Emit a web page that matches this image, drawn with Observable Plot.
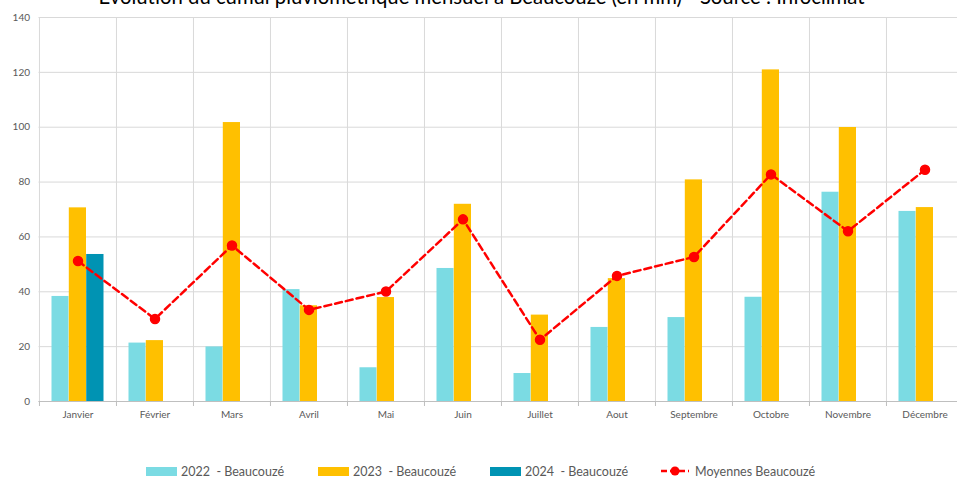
<!DOCTYPE html>
<html>
<head>
<meta charset="utf-8">
<script src="https://cdn.jsdelivr.net/npm/d3@7"></script>
<script src="https://cdn.jsdelivr.net/npm/@observablehq/plot@0.6"></script>
<style>
  html, body { margin: 0; padding: 0; background: #fff; overflow: hidden; width: 957px; height: 480px; }
  #wrap { position: relative; width: 957px; height: 480px; }
  #title { position: absolute; top: -14px; left: 0; width: 963px; text-align: center; z-index: 2; line-height: 21px;
           font-family: Lato, "Open Sans", sans-serif; font-size: 20.3px; color: #000; white-space: nowrap; }
  #chart { position: absolute; top: 0; left: 0; z-index: 1; }
  #chart svg { max-width: none !important; }
  #legend { position: absolute; top: 462px; left: 0; width: 957px; height: 18px;
            font-family: Lato, "Open Sans", sans-serif; font-size: 12.5px; color: #595959; }
  .item { position: absolute; top: 0; display: flex; align-items: center; height: 18px; white-space: pre; }
  .sw { width: 31px; height: 9px; margin-right: 4px; }
</style>
</head>
<body>
<div id="wrap">
  <div id="title">Evolution du cumul pluviométrique mensuel à Beaucouzé (en mm) - Source : Infoclimat</div>
  <div id="chart"></div>
  <div id="legend"></div>
</div>
<script>
const months = ["Janvier","Février","Mars","Avril","Mai","Juin","Juillet","Aout","Septembre","Octobre","Novembre","Décembre"];
const v2022 = [38.3, 21.3, 19.9, 40.8, 12.3, 48.5, 10.2, 27.0, 30.6, 38.0, 76.3, 69.3];
const v2023 = [70.6, 22.2, 101.7, 34.9, 37.9, 71.9, 31.5, 44.8, 80.8, 120.9, 99.9, 70.7];
const v2024 = [53.6];
const moyennes = [51.2, 30.1, 56.9, 33.4, 40.1, 66.4, 22.5, 45.8, 52.7, 82.8, 62.1, 84.5];
const yTicks = [0, 20, 40, 60, 80, 100, 120, 140];
const seriesNames = ["2022  - Beaucouzé", "2023  - Beaucouzé", "2024  - Beaucouzé", "Moyennes Beaucouzé"];
const colors = ["#7BDBE3", "#FFC000", "#0093B3", "#FF0000"];

const d22 = v2022.map((v, i) => ({month: months[i], value: v}));
const d23 = v2023.map((v, i) => ({month: months[i], value: v}));
const d24 = v2024.map((v, i) => ({month: months[i], value: v}));
const dMoy = moyennes.map((v, i) => ({month: months[i], value: v}));

const W = 963;
const half = (W - 38.5) / months.length / 2;

const chart = Plot.plot({
  width: W,
  height: 430,
  marginLeft: 38.5,
  marginRight: 0,
  marginTop: 17,
  marginBottom: 29,
  style: {fontFamily: "Lato, 'Open Sans', sans-serif", fontSize: "10px", color: "#595959", background: "transparent"},
  x: {type: "band", domain: months, padding: 0, label: null},
  y: {domain: [0, 140], label: null},
  marks: [
    Plot.ruleY(yTicks, {stroke: "#d9d9d9", strokeWidth: 1}),
    Plot.ruleX(months, {x: d => d, dx: -half, stroke: "#d9d9d9", strokeWidth: 1}),
    Plot.barY(d22, {x: "month", y: "value", fill: colors[0], insetLeft: 12.5, insetRight: 47.5}),
    Plot.barY(d23, {x: "month", y: "value", fill: colors[1], insetLeft: 29.8, insetRight: 30.0}),
    Plot.barY(d24, {x: "month", y: "value", fill: colors[2], insetLeft: 47.2, insetRight: 12.5}),
    Plot.ruleY([0], {stroke: "#bfbfbf", strokeWidth: 1}),
    Plot.axisX({ticks: months, tickSize: 5, text: null, dx: -half, stroke: "#bfbfbf"}),
    Plot.axisX({ticks: months, tickSize: 0, tickPadding: 9, fill: "#595959", fontSize: 10}),
    Plot.axisY({ticks: yTicks, tickSize: 0, tickPadding: 9, fill: "#595959", fontSize: 10}),
    Plot.line(dMoy, {x: "month", y: "value", stroke: colors[3], strokeWidth: 2.5, strokeDasharray: "7,4"}),
    Plot.dot(dMoy, {x: "month", y: "value", r: 4.5, fill: colors[3], stroke: colors[3]})
  ]
});
document.getElementById("chart").appendChild(chart);

const legend = document.getElementById("legend");
const lx = [146, 318, 490, 660];
seriesNames.forEach((name, i) => {
  const it = document.createElement("div");
  it.className = "item";
  it.style.left = lx[i] + "px";
  if (i < 3) {
    const sw = document.createElement("div");
    sw.className = "sw";
    sw.style.background = colors[i];
    it.appendChild(sw);
  } else {
    const svg = d3.create("svg").attr("width", 31).attr("height", 12).style("margin-right", "4px");
    svg.append("line").attr("x1", 1).attr("x2", 29).attr("y1", 6).attr("y2", 6)
      .attr("stroke", colors[3]).attr("stroke-width", 2.5).attr("stroke-dasharray", "6,3");
    svg.append("circle").attr("cx", 15).attr("cy", 6).attr("r", 4.5).attr("fill", colors[3]);
    it.appendChild(svg.node());
  }
  const t = document.createElement("span");
  t.textContent = name;
  it.appendChild(t);
  legend.appendChild(it);
});
</script>
</body>
</html>
